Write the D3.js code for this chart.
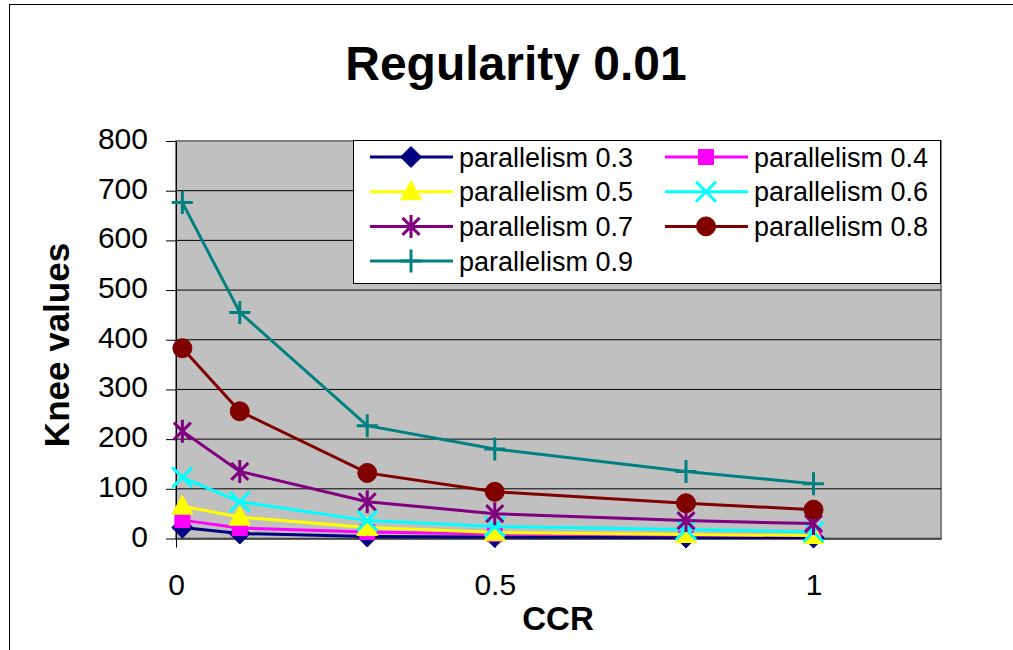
<!DOCTYPE html>
<html>
<head>
<meta charset="utf-8">
<script src="https://cdn.jsdelivr.net/npm/d3@7"></script>
<style>
  body { margin: 0; background: #fff; }
  text { font-family: "Liberation Sans", Arial, sans-serif; }
</style>
</head>
<body>
<svg width="1013" height="650"></svg>
<script>
// Données
const ccr = [0.01, 0.1, 0.3, 0.5, 0.8, 1];
const p03 = [22, 10, 4, 3, 2, 2];
const p04 = [37, 21, 13, 9, 7, 6];
const p05 = [65, 43, 22, 12, 8, 6];
const p06 = [123, 74, 36, 24, 18, 13];
const p07 = [216, 135, 74, 50, 36, 30];
const p08 = [383, 256, 132, 94, 71, 58];
const p09 = [676, 455, 227, 180, 135, 110];
const seriesNames = ["parallelism 0.3", "parallelism 0.4", "parallelism 0.5", "parallelism 0.6",
    "parallelism 0.7", "parallelism 0.8", "parallelism 0.9"];
const seriesValues = [p03, p04, p05, p06, p07, p08, p09];
const yTicks = [0, 100, 200, 300, 400, 500, 600, 700, 800];
const xTicks = [0, 0.5, 1];

// Style des séries
const colors = ["#000080", "#FF00FF", "#FFFF00", "#00FFFF", "#800080", "#800000", "#008080"];
const markers = ["diamond", "square", "triangle", "x", "star", "circle", "plus"];

const svg = d3.select("svg");

// Cadre extérieur
svg.append("rect")
    .attr("x", 9.5).attr("y", 4.5)
    .attr("width", 1200).attr("height", 800)
    .attr("fill", "#fff").attr("stroke", "#000").attr("stroke-width", 1);

// Zone du graphique
const plotLeft = 176, plotRight = 941, plotTop = 141, plotBottom = 538.5;
const x = d3.scaleLinear().domain([0, 1.2]).range([plotLeft, plotRight]);
const y = d3.scaleLinear().domain([0, 800]).range([plotBottom, plotTop]);

svg.append("rect")
    .attr("x", plotLeft).attr("y", plotTop)
    .attr("width", plotRight - plotLeft).attr("height", plotBottom - plotTop)
    .attr("fill", "#C0C0C0").attr("stroke", "#808080").attr("stroke-width", 2);

// Quadrillage
svg.selectAll(".grid")
    .data(yTicks.filter(d => d > 0 && d < 800))
    .enter()
    .append("line")
    .attr("class", "grid")
    .attr("x1", plotLeft).attr("x2", plotRight)
    .attr("y1", d => y(d)).attr("y2", d => y(d))
    .attr("stroke", "#000").attr("stroke-width", 1);

// Axes
const yAxis = svg.append("g")
    .attr("transform", `translate(${plotLeft},0)`)
    .call(d3.axisLeft(y).tickValues(yTicks).tickSize(10).tickPadding(18).tickSizeOuter(0));
yAxis.select(".domain").attr("stroke", "#000");
yAxis.selectAll("text")
    .attr("font-size", 30).attr("fill", "#000")
    .attr("dy", "0.25em");

const xAxis = svg.append("g")
    .attr("transform", `translate(0,${plotBottom})`)
    .call(d3.axisBottom(x).tickValues(xTicks).tickFormat(d3.format("")).tickSize(9).tickPadding(30).tickSizeOuter(0));
xAxis.select(".domain").attr("stroke", "#000");
xAxis.selectAll("text")
    .attr("font-size", 30).attr("fill", "#000")
    .attr("dy", "0.58em");

// Formes des marqueurs
function markerPath(type) {
    switch (type) {
        case "diamond": return "M0,-10.5L10.5,0L0,10.5L-10.5,0Z";
        case "square": return "M-7.5,-7.5H7.5V7.5H-7.5Z";
        case "triangle": return "M0,-11L10.5,8L-10.5,8Z";
        case "circle": return "M-9.5,0A9.5,9.5 0 1,0 9.5,0A9.5,9.5 0 1,0 -9.5,0Z";
        case "x": return "M-10,-10L10,10M-10,10L10,-10";
        case "star": return "M-8.5,-8.5L8.5,8.5M-8.5,8.5L8.5,-8.5M0,-11.5V11.5";
        case "plus": return "M-10.5,0H10.5M0,-11.5V11.5";
    }
}
const filled = t => ["diamond", "square", "triangle", "circle"].includes(t);

function drawMarker(g, type, color, cx, cy) {
    g.append("path")
        .attr("d", markerPath(type))
        .attr("transform", `translate(${cx},${cy})`)
        .attr("fill", filled(type) ? color : "none")
        .attr("stroke", color)
        .attr("stroke-width", filled(type) ? 1 : 3);
}

// Courbes
const line = d3.line().x(d => x(d[0])).y(d => y(d[1]));

seriesValues.forEach((vals, i) => {
    const pts = ccr.map((c, j) => [c, vals[j]]);
    const g = svg.append("g");
    g.append("path")
        .datum(pts)
        .attr("d", line)
        .attr("fill", "none")
        .attr("stroke", colors[i])
        .attr("stroke-width", 3);
    pts.forEach(p => drawMarker(g, markers[i], colors[i], x(p[0]), y(p[1])));
});

// Légende
const legend = svg.append("g");
legend.append("rect")
    .attr("x", 353.5).attr("y", 140.5)
    .attr("width", 587).attr("height", 143)
    .attr("fill", "#fff").attr("stroke", "#000").attr("stroke-width", 1);

seriesNames.forEach((name, i) => {
    const col = i % 2, row = Math.floor(i / 2);
    const lx = 370 + col * 295;
    const ly = 157 + row * 34.7;
    legend.append("line")
        .attr("x1", lx).attr("x2", lx + 83)
        .attr("y1", ly).attr("y2", ly)
        .attr("stroke", colors[i]).attr("stroke-width", 3);
    drawMarker(legend, markers[i], colors[i], lx + 41, ly);
    legend.append("text")
        .attr("x", lx + 89).attr("y", ly + 9.7)
        .attr("font-size", 27)
        .text(name);
});

// Titres
svg.append("text")
    .attr("x", 516).attr("y", 80)
    .attr("text-anchor", "middle")
    .attr("font-size", 48).attr("font-weight", "bold")
    .text("Regularity 0.01");

svg.append("text")
    .attr("transform", "translate(69,345) rotate(-90)")
    .attr("text-anchor", "middle")
    .attr("font-size", 35).attr("font-weight", "bold")
    .text("Knee values");

svg.append("text")
    .attr("x", 558).attr("y", 630)
    .attr("text-anchor", "middle")
    .attr("font-size", 33).attr("font-weight", "bold")
    .text("CCR");
</script>
</body>
</html>
